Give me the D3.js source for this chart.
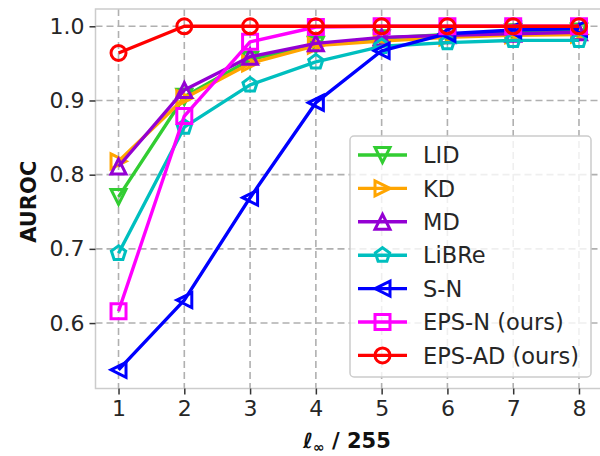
<!DOCTYPE html>
<html>
<head>
<meta charset="utf-8">
<script src="https://cdn.jsdelivr.net/npm/d3@7/dist/d3.min.js"></script>
<style>
  html, body { margin: 0; padding: 0; background: #fff; }
  svg { display: block; font-family: "DejaVu Sans", sans-serif; }
</style>
</head>
<body>
<svg id="chart" width="600" height="456"></svg>
<script>
// Perturbation budgets (l_inf, in units of 1/255)
const budgets = [1, 2, 3, 4, 5, 6, 7, 8];
const yTicks = [0.6, 0.7, 0.8, 0.9, 1.0];

// AUROC of each detector per budget
const lid    = [0.770, 0.905, 0.955, 0.975, 0.984, 0.989, 0.992, 0.993];
const kd     = [0.818, 0.903, 0.950, 0.974, 0.980, 0.985, 0.988, 0.989];
const md     = [0.811, 0.914, 0.959, 0.977, 0.985, 0.988, 0.990, 0.992];
const libre  = [0.694, 0.864, 0.921, 0.952, 0.973, 0.978, 0.981, 0.981];
const sn     = [0.537, 0.631, 0.769, 0.897, 0.967, 0.990, 0.995, 0.997];
const epsN   = [0.616, 0.879, 0.979, 0.999, 1.000, 1.000, 1.000, 1.000];
const epsAD  = [0.964, 1.000, 1.000, 1.000, 1.000, 1.000, 1.000, 1.000];

const seriesNames  = ["LID", "KD", "MD", "LiBRe", "S-N", "EPS-N (ours)", "EPS-AD (ours)"];
const seriesValues = [lid, kd, md, libre, sn, epsN, epsAD];
const seriesColors = ["#32cd32", "#ffa500", "#9400d3", "#00bfbf", "#0000ff", "#ff00ff", "#ff0000"];
const seriesMarkers = ["v", ">", "^", "p", "<", "s", "o"];

const svg = d3.select("#chart");
const plot = { left: 95.5, right: 602, top: 9, bottom: 388.5 };

const x = d3.scaleLinear().domain([0.65, 8.35]).range([plot.left, plot.right]);
const y = d3.scaleLinear().domain([0.5118, 1.0233]).range([plot.bottom, plot.top]);

const MS = 15;       // marker size (px)
const MEW = 3;       // marker edge width
const LW = 3.4;      // line width

function markerPath(kind, s) {
  const h = s / 2;
  switch (kind) {
    case "v": return `M0,${h}L${-h},${-h}L${h},${-h}Z`;
    case "^": return `M0,${-h}L${-h},${h}L${h},${h}Z`;
    case ">": return `M${h},0L${-h},${-h}L${-h},${h}Z`;
    case "<": return `M${-h},0L${h},${-h}L${h},${h}Z`;
    case "s": return `M${-h},${-h}L${h},${-h}L${h},${h}L${-h},${h}Z`;
    case "p": {
      const pts = d3.range(5).map(i => {
        const a = -Math.PI / 2 + i * 2 * Math.PI / 5;
        return [h * Math.cos(a), h * Math.sin(a)];
      });
      return "M" + pts.map(p => p.join(",")).join("L") + "Z";
    }
    case "o": return `M${h},0A${h},${h} 0 1,1 ${-h},0A${h},${h} 0 1,1 ${h},0Z`;
  }
}

svg.append("defs").append("clipPath").attr("id", "plotClip")
  .append("rect").attr("x", plot.left).attr("y", plot.top)
  .attr("width", plot.right - plot.left).attr("height", plot.bottom - plot.top);

// Grid
const grid = svg.append("g").attr("stroke", "#b0b0b0").attr("stroke-width", 1.6)
  .attr("stroke-dasharray", "7,4");
grid.selectAll(".gx").data(budgets).join("line")
  .attr("x1", d => x(d)).attr("x2", d => x(d))
  .attr("y1", plot.top).attr("y2", plot.bottom);
grid.selectAll(".gy").data(yTicks).join("line")
  .attr("x1", plot.left).attr("x2", plot.right)
  .attr("y1", d => y(d)).attr("y2", d => y(d));

// Frame
svg.append("rect").attr("x", plot.left).attr("y", plot.top)
  .attr("width", plot.right - plot.left).attr("height", plot.bottom - plot.top)
  .attr("fill", "none").attr("stroke", "#cccccc").attr("stroke-width", 1.5);

// Axes
const xAxis = d3.axisBottom(x).tickValues(budgets).tickFormat(d3.format("d"))
  .tickSizeInner(6).tickSizeOuter(0).tickPadding(6);
const yAxis = d3.axisLeft(y).tickValues(yTicks).tickFormat(d3.format(".1f"))
  .tickSizeInner(6).tickSizeOuter(0).tickPadding(5);

const gx = svg.append("g").attr("transform", `translate(0,${plot.bottom})`).call(xAxis);
const gy = svg.append("g").attr("transform", `translate(${plot.left},0)`).call(yAxis);
[gx, gy].forEach(g => {
  g.select(".domain").remove();
  g.selectAll(".tick line").attr("stroke", "#333").attr("stroke-width", 1.5);
  g.selectAll(".tick text").attr("fill", "#262626")
    .style("font-family", "DejaVu Sans").style("font-size", "22px");
});

// Series
const lineGen = d3.line().x((d, i) => x(budgets[i])).y(d => y(d));
const series = svg.append("g").attr("clip-path", "url(#plotClip)");
seriesValues.forEach((vals, k) => {
  const g = series.append("g");
  g.append("path").datum(vals).attr("d", lineGen)
    .attr("fill", "none").attr("stroke", seriesColors[k]).attr("stroke-width", LW)
    .attr("stroke-linejoin", "round");
  g.selectAll("path.m").data(vals).join("path").attr("class", "m")
    .attr("transform", (d, i) => `translate(${x(budgets[i])},${y(d)})`)
    .attr("d", markerPath(seriesMarkers[k], MS))
    .attr("fill", "none").attr("stroke", seriesColors[k]).attr("stroke-width", MEW)
    .attr("stroke-linejoin", "miter");
});

// Legend
const leg = svg.append("g");
leg.append("rect").attr("x", 350).attr("y", 136).attr("width", 241).attr("height", 241)
  .attr("rx", 4).attr("fill", "#fff").attr("fill-opacity", 0.8)
  .attr("stroke", "#cccccc").attr("stroke-width", 1.5);
seriesNames.forEach((name, k) => {
  const cy = 155 + k * 33.4;
  const item = leg.append("g").attr("transform", `translate(0,${cy})`);
  item.append("line").attr("x1", 358).attr("x2", 407).attr("y1", 0).attr("y2", 0)
    .attr("stroke", seriesColors[k]).attr("stroke-width", LW);
  item.append("path").attr("transform", "translate(382.5,0)")
    .attr("d", markerPath(seriesMarkers[k], MS))
    .attr("fill", "none").attr("stroke", seriesColors[k]).attr("stroke-width", MEW);
  item.append("text").attr("x", 423).attr("y", 0).attr("dy", "0.36em")
    .attr("fill", "#262626").style("font-size", "22.5px").text(name);
});

// Axis labels
svg.append("text").attr("transform", `translate(36,${(plot.top + plot.bottom) / 2 + 3}) rotate(-90)`)
  .attr("text-anchor", "middle").attr("fill", "#111")
  .style("font-size", "21px").style("font-weight", "bold").text("AUROC");

const xl = svg.append("text").attr("x", 347).attr("y", 448).attr("text-anchor", "middle")
  .attr("fill", "#111").style("font-size", "21px").style("font-weight", "bold");
xl.append("tspan").style("font-style", "italic").text("ℓ");
xl.append("tspan").attr("dy", 4).style("font-size", "14px").text("∞");
xl.append("tspan").attr("dy", -4).text(" / 255");
</script>
</body>
</html>
